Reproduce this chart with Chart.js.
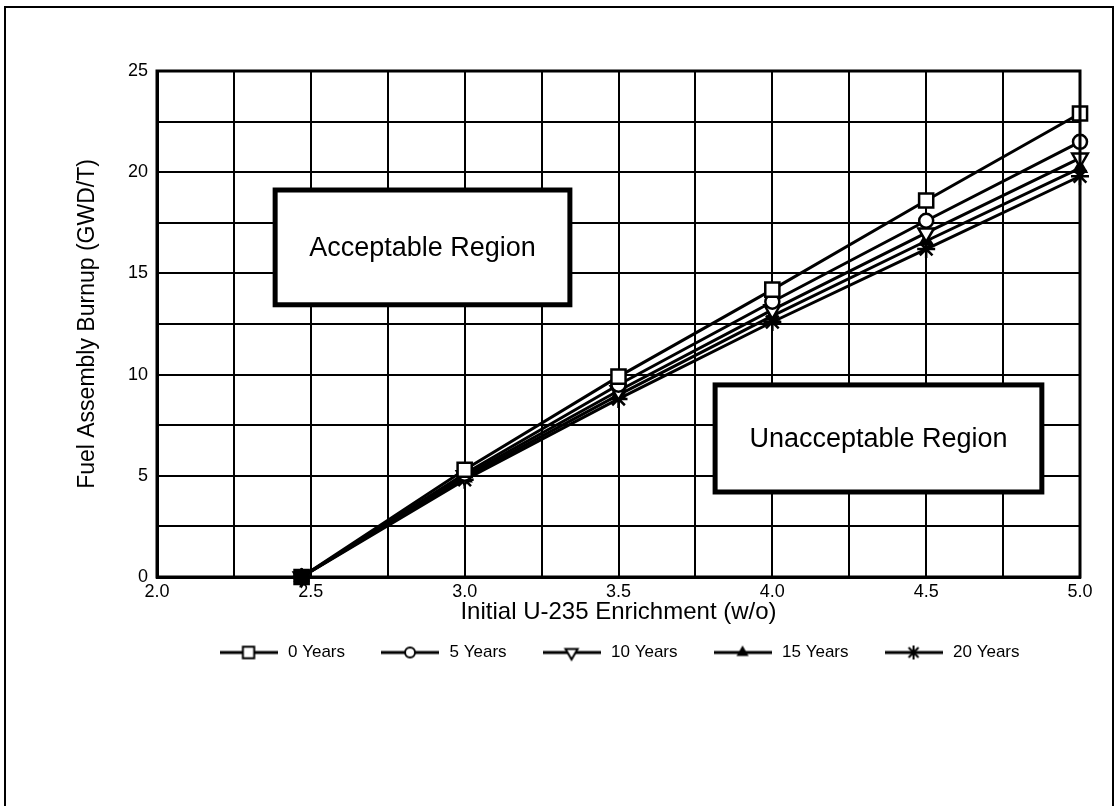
<!DOCTYPE html>
<html>
<head>
<meta charset="utf-8">
<script src="https://cdn.jsdelivr.net/npm/chart.js@4.4.1/dist/chart.umd.min.js"></script>
<style>
  html, body { margin: 0; padding: 0; background: #fff; }
  #wrap { width: 1119px; height: 806px; position: relative; }
</style>
</head>
<body>
<div id="wrap"><canvas id="burnup-chart"></canvas></div>
<script>
// Initial enrichment (w/o) and required assembly burnup (GWD/T) per cooling time
const enrichment = [2.47, 3.0, 3.5, 4.0, 4.5, 5.0];
const burnup0yr = [0, 5.3, 9.9, 14.2, 18.6, 22.9];
const burnup5yr = [0, 5.1, 9.5, 13.6, 17.6, 21.5];
const burnup10yr = [0, 5.0, 9.2, 13.2, 17.0, 20.7];
const burnup15yr = [0, 4.9, 9.0, 12.9, 16.6, 20.2];
const burnup20yr = [0, 4.8, 8.8, 12.6, 16.2, 19.8];
const seriesLabels = ['0 Years', '5 Years', '10 Years', '15 Years', '20 Years'];

const xTitle = 'Initial U-235 Enrichment (w/o)';
const yTitle = 'Fuel Assembly Burnup (GWD/T)';

// region notes, in data units: [xMin, xMax, yMin, yMax]
const regionNotes = [
    { text: 'Acceptable Region', box: [2.384, 3.342, 13.45, 19.12] },
    { text: 'Unacceptable Region', box: [3.814, 4.876, 4.2, 9.49] }
];

const fontFam = "'Liberation Sans', Arial, sans-serif";

const markers = [
    { pointStyle: 'rect', radius: 10, rotation: 0, fill: '#fff' },
    { pointStyle: 'circle', radius: 7, rotation: 0, fill: '#fff' },
    { pointStyle: 'triangle', radius: 9, rotation: 180, fill: '#fff' },
    { pointStyle: 'triangle', radius: 7, rotation: 0, fill: '#000' },
    { pointStyle: 'star', radius: 9, rotation: 0, fill: '#000' }
];

// small "line + marker" picture for each legend entry
function legendSwatch(m) {
    const c = document.createElement('canvas');
    c.width = 58;
    c.height = 20;
    const g = c.getContext('2d');
    g.strokeStyle = '#000';
    g.lineWidth = 3;
    g.beginPath();
    g.moveTo(0, 10);
    g.lineTo(58, 10);
    g.stroke();
    g.fillStyle = m.fill;
    g.lineWidth = 2;
    Chart.helpers.drawPoint(g, { pointStyle: m.pointStyle, radius: m.radius - 2, rotation: m.rotation, borderWidth: 2 }, 29, 10);
    return c;
}

const seriesValues = [burnup0yr, burnup5yr, burnup10yr, burnup15yr, burnup20yr];

const datasets = seriesValues.map((vals, i) => ({
    label: seriesLabels[i],
    data: vals.map((v, j) => ({ x: enrichment[j], y: v })),
    borderColor: '#000',
    borderWidth: 3,
    tension: 0,
    clip: false,
    pointStyle: markers[i].pointStyle,
    pointRadius: markers[i].radius,
    pointRotation: markers[i].rotation,
    pointBorderWidth: 2.5,
    pointBorderColor: '#000',
    pointBackgroundColor: ctx => ctx.dataIndex === 0 ? '#000' : markers[i].fill
}));

const swatches = markers.map(legendSwatch);

const framePlugin = {
    id: 'frame',
    beforeDraw(chart) {
        const c = chart.ctx;
        c.save();
        c.fillStyle = '#fff';
        c.fillRect(0, 0, chart.width, chart.height);
        c.strokeStyle = '#000';
        c.lineWidth = 2;
        c.beginPath();
        c.moveTo(5, chart.height);
        c.lineTo(5, 7);
        c.lineTo(1113, 7);
        c.lineTo(1113, chart.height);
        c.stroke();
        c.restore();
    },
    afterDraw(chart) {
        const a = chart.chartArea;
        const c = chart.ctx;
        c.save();
        c.strokeStyle = '#000';
        c.lineWidth = 3;
        c.strokeRect(a.left, a.top, a.right - a.left, a.bottom - a.top);
        c.restore();
    }
};

const notesPlugin = {
    id: 'notes',
    afterDatasetsDraw(chart) {
        const xs = chart.scales.x;
        const ys = chart.scales.y;
        const c = chart.ctx;
        c.save();
        regionNotes.forEach(n => {
            const l = xs.getPixelForValue(n.box[0]);
            const r = xs.getPixelForValue(n.box[1]);
            const t = ys.getPixelForValue(n.box[3]);
            const b = ys.getPixelForValue(n.box[2]);
            c.fillStyle = '#fff';
            c.fillRect(l, t, r - l, b - t);
            c.strokeStyle = '#000';
            c.lineWidth = 5;
            c.strokeRect(l, t, r - l, b - t);
            c.fillStyle = '#000';
            c.font = '27px ' + fontFam;
            c.textAlign = 'center';
            c.textBaseline = 'middle';
            c.fillText(n.text, (l + r) / 2, (t + b) / 2 + 1);
        });
        c.restore();
    }
};

new Chart(document.getElementById('burnup-chart'), {
    type: 'line',
    data: { datasets },
    options: {
        responsive: true,
        maintainAspectRatio: false,
        animation: false,
        layout: {
            padding: { left: 39, right: 39, top: 71, bottom: 135 }
        },
        scales: {
            x: {
                type: 'linear',
                min: 2,
                max: 5,
                afterFit: s => { s.height = 33; },
                ticks: {
                    stepSize: 0.25,
                    autoSkip: false,
                    maxRotation: 0,
                    padding: 4,
                    color: '#000',
                    font: { family: fontFam, size: 18 },
                    callback: v => Math.abs(v * 2 - Math.round(v * 2)) < 1e-6 ? v.toFixed(1) : ''
                },
                grid: { color: '#000', lineWidth: 2, drawTicks: false },
                border: { color: '#000', width: 3 },
                title: {
                    display: true,
                    text: xTitle,
                    color: '#000',
                    font: { family: fontFam, size: 24 },
                    padding: { top: 0, bottom: -17 }
                }
            },
            y: {
                min: 0,
                max: 25,
                afterFit: s => { s.width = 118; },
                ticks: {
                    stepSize: 2.5,
                    padding: 9,
                    color: '#000',
                    font: { family: fontFam, size: 18 },
                    callback: v => v % 5 === 0 ? v : ''
                },
                grid: { color: '#000', lineWidth: 2, drawTicks: false },
                border: { color: '#000', width: 3 },
                title: {
                    display: true,
                    text: yTitle,
                    color: '#000',
                    font: { family: fontFam, size: 23 },
                    padding: { top: 35, bottom: 0 }
                }
            }
        },
        plugins: {
            legend: {
                position: 'bottom',
                fullSize: false,
                labels: {
                    usePointStyle: true,
                    pointStyleWidth: 62,
                    padding: 34,
                    color: '#000',
                    font: { family: fontFam, size: 17 },
                    generateLabels: chart => chart.data.datasets.map((ds, i) => ({
                        text: ds.label,
                        pointStyle: swatches[i],
                        fillStyle: '#000',
                        strokeStyle: '#000',
                        lineWidth: 0,
                        hidden: false,
                        datasetIndex: i
                    }))
                }
            },
            tooltip: { enabled: false }
        }
    },
    plugins: [framePlugin, notesPlugin]
});
</script>
</body>
</html>
